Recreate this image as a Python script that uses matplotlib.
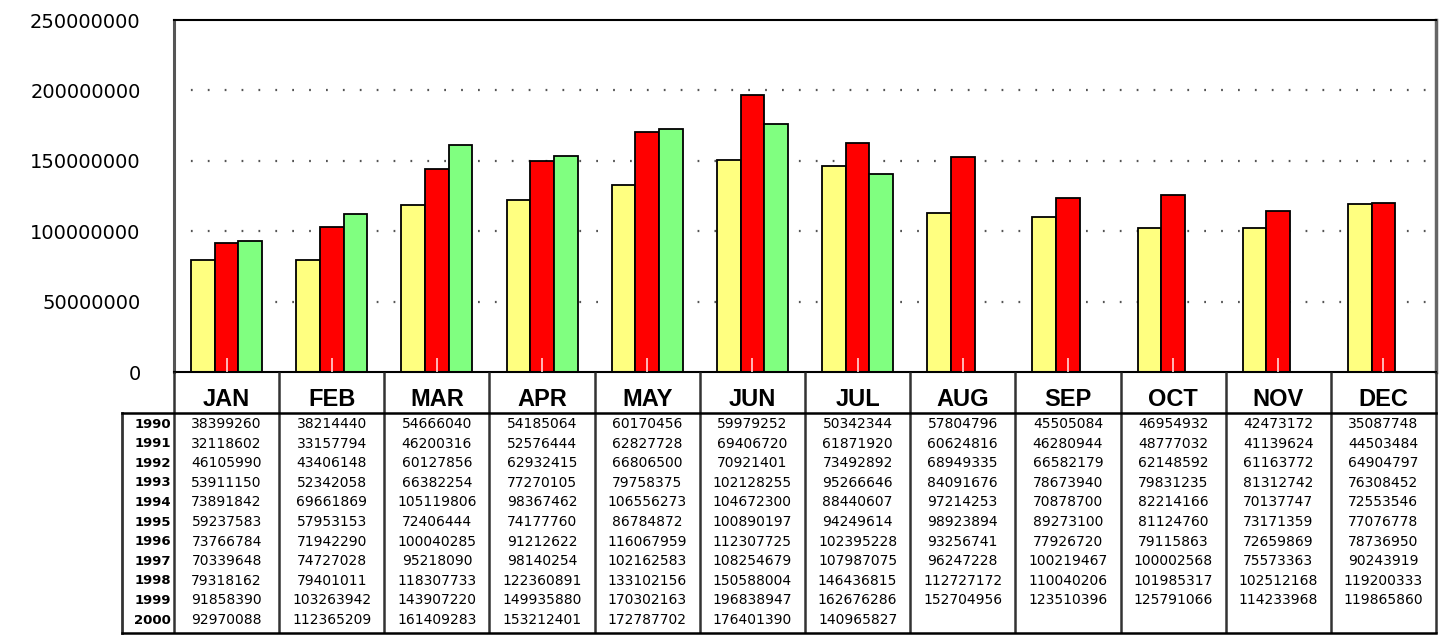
import numpy as np
import matplotlib.pyplot as plt

months = ['JAN', 'FEB', 'MAR', 'APR', 'MAY', 'JUN',
          'JUL', 'AUG', 'SEP', 'OCT', 'NOV', 'DEC']
years = ['1990', '1991', '1992', '1993', '1994', '1995',
         '1996', '1997', '1998', '1999', '2000']

v1990 = [38399260, 38214440, 54666040, 54185064, 60170456, 59979252,
         50342344, 57804796, 45505084, 46954932, 42473172, 35087748]
v1991 = [32118602, 33157794, 46200316, 52576444, 62827728, 69406720,
         61871920, 60624816, 46280944, 48777032, 41139624, 44503484]
v1992 = [46105990, 43406148, 60127856, 62932415, 66806500, 70921401,
         73492892, 68949335, 66582179, 62148592, 61163772, 64904797]
v1993 = [53911150, 52342058, 66382254, 77270105, 79758375, 102128255,
         95266646, 84091676, 78673940, 79831235, 81312742, 76308452]
v1994 = [73891842, 69661869, 105119806, 98367462, 106556273, 104672300,
         88440607, 97214253, 70878700, 82214166, 70137747, 72553546]
v1995 = [59237583, 57953153, 72406444, 74177760, 86784872, 100890197,
         94249614, 98923894, 89273100, 81124760, 73171359, 77076778]
v1996 = [73766784, 71942290, 100040285, 91212622, 116067959, 112307725,
         102395228, 93256741, 77926720, 79115863, 72659869, 78736950]
v1997 = [70339648, 74727028, 95218090, 98140254, 102162583, 108254679,
         107987075, 96247228, 100219467, 100002568, 75573363, 90243919]
v1998 = [79318162, 79401011, 118307733, 122360891, 133102156, 150588004,
         146436815, 112727172, 110040206, 101985317, 102512168, 119200333]
v1999 = [91858390, 103263942, 143907220, 149935880, 170302163, 196838947,
         162676286, 152704956, 123510396, 125791066, 114233968, 119865860]
v2000 = [92970088, 112365209, 161409283, 153212401, 172787702, 176401390,
         140965827, None, None, None, None, None]

rows = [v1990, v1991, v1992, v1993, v1994, v1995,
        v1996, v1997, v1998, v1999, v2000]

# the last three years are the ones shown as bars
bar_series = [v1998, v1999, v2000]
bar_colors = ['#FFFF80', '#FF0000', '#80FF80']

W, H = 1440, 635
fig = plt.figure(figsize=(W / 100, H / 100), dpi=100)


def px_axes(x0, y0, x1, y1):
    return fig.add_axes([x0 / W, 1 - y1 / H, (x1 - x0) / W, (y1 - y0) / H])


x_left, x_right = 174, 1436
y_top, y_base = 20, 372
ax = px_axes(x_left, y_top, x_right, y_base)
ax.set_axisbelow(False)

x = np.arange(len(months))
bw = 0.225
for i, (vals, col) in enumerate(zip(bar_series, bar_colors)):
    h = [np.nan if v is None else v for v in vals]
    ax.bar(x + (i - 1) * bw, h, bw, color=col, edgecolor='black',
           linewidth=1.3, zorder=2)

ax.set_xlim(-0.5, 11.5)
ax.set_ylim(0, 250000000)
ax.set_yticks(range(0, 250000001, 50000000))
ax.set_yticklabels([str(v) for v in range(0, 250000001, 50000000)],
                   family='DejaVu Sans', fontsize=14)
ax.tick_params(axis='y', length=0, pad=24)
ax.set_xticks(x)
ax.set_xticklabels([])
# short light ticks sit inside the middle bar of each month
ax.tick_params(axis='x', direction='in', length=10, width=1.2,
               color='#FFD8D8')

for g in range(50000000, 250000000, 50000000):
    ax.axhline(g, color='#555555', linewidth=1.6,
               linestyle=(0, (0.8, 6.8)), zorder=1)

ax.spines['top'].set_color('black')
ax.spines['top'].set_linewidth(1.5)
ax.spines['left'].set_color('#555555')
ax.spines['left'].set_linewidth(2.2)
ax.spines['right'].set_color('#666666')
ax.spines['right'].set_linewidth(2.5)
ax.spines['bottom'].set_color('black')
ax.spines['bottom'].set_linewidth(1.5)

# data table under the chart, month columns line up with the bars
tx_left = 122
tab = px_axes(tx_left, y_base, x_right, H)
col_w = (x_right - x_left) / 12
xl = -0.5 - (x_left - tx_left) / col_w
tab.set_xlim(xl, 11.5)
tab.set_ylim(H - y_base, 0)
tab.axis('off')

head_bot = 413 - y_base
tab_bot = 633 - y_base
lc = '#333333'
for k in range(13):
    tab.plot([k - 0.5, k - 0.5], [0, tab_bot], color=lc, lw=1.8,
             clip_on=False, solid_capstyle='butt')
tab.plot([xl, xl], [head_bot, tab_bot], color=lc, lw=2, clip_on=False)
tab.plot([xl, 11.5], [head_bot, head_bot], color='black', lw=1.8, clip_on=False)
tab.plot([xl, 11.5], [tab_bot, tab_bot], color='black', lw=1.8, clip_on=False)

for i, m in enumerate(months):
    tab.text(i, 399 - y_base, m, ha='center', va='center',
             family='Liberation Sans', fontweight='bold', fontsize=17)

for r, (yr, vals) in enumerate(zip(years, rows)):
    yc = 424 + 19.6 * r - y_base
    tab.text(-0.53, yc, yr, ha='right', va='center',
             family='DejaVu Sans', fontweight='bold', fontsize=9.5)
    for i, v in enumerate(vals):
        if v is None:
            continue
        tab.text(i, yc, str(v), ha='center', va='center',
                 family='DejaVu Sans', fontsize=10)

fig.savefig('out.png', dpi=100)
